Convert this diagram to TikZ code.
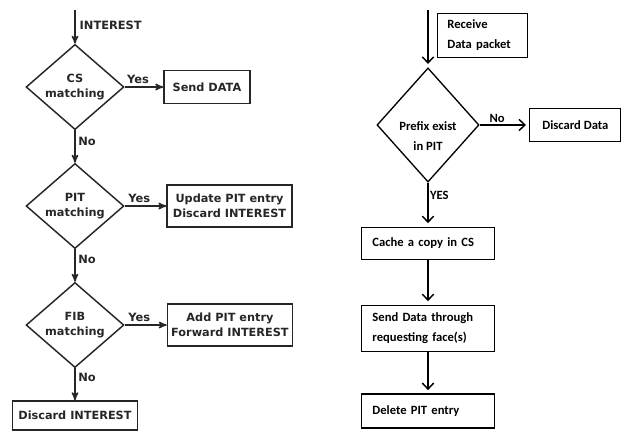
\documentclass[tikz,border=0pt]{standalone}
\usepackage{fontspec}
\setmainfont{DejaVu Sans}
\newfontfamily\calibfont{Carlito}
\usetikzlibrary{shapes,arrows,arrows.meta}
\definecolor{ink}{HTML}{262626}
\tikzstyle{decision} = [diamond, draw=ink, text=ink, line width=1.1pt, align=center, inner sep=0pt, minimum width=2.59cm, minimum height=2.2cm, font=\fontsize{8.5}{11.25}\selectfont\bfseries]
\tikzstyle{block} = [rectangle, draw=ink, text=ink, line width=1.1pt, align=center, inner sep=0pt, font=\fontsize{8.5}{11.25}\selectfont\bfseries]
\tikzstyle{tag} = [text=ink, inner sep=2pt, font=\fontsize{8.6}{10}\selectfont\bfseries]
\tikzstyle{line} = [draw=ink, -stealth', line width=1.1pt]
\tikzstyle{query} = [diamond, draw, line width=1pt, inner sep=0pt, minimum width=2.7cm, minimum height=3.02cm]
\tikzstyle{process} = [rectangle, draw, line width=0.8pt, align=left, minimum width=3.52cm, text width=2.94cm, inner xsep=0.29cm, inner ysep=0pt, font=\calibfont\fontsize{9.5}{15}\selectfont\bfseries]
\tikzstyle{note} = [inner sep=1pt, font=\calibfont\fontsize{9.5}{12}\selectfont\bfseries]
\tikzstyle{arrow} = [draw, -{Straight Barb[length=4.5pt, width=8.5pt]}, line width=1.1pt, shorten >=2.5pt]

\begin{document}
\begin{tikzpicture}
\useasboundingbox (0,0) rectangle (16.563,-11.403);

% interest packet
\node [decision] (cs) at (1.984,-2.302) {CS\\matching};
\node [decision, below of=cs, node distance=3.149cm] (pit) {PIT\\matching};
\node [decision, below of=pit, node distance=3.149cm] (fib) {FIB\\matching};
\node [block, below of=fib, node distance=2.394cm, minimum width=3.31cm, minimum height=0.77cm] (drop) {Discard INTEREST};

\node [block, right of=cs, node distance=3.492cm, minimum width=2.28cm, minimum height=0.87cm] (senddata) {Send DATA};
\node [block, right of=pit, node distance=4.09cm, minimum width=3.31cm, minimum height=1.11cm] (update) {Update PIT entry\\Discard INTEREST};
\node [block, right of=fib, node distance=4.1cm, minimum width=3.31cm, minimum height=1.11cm] (forward) {Add PIT entry\\Forward INTEREST};

\coordinate [above of=cs, node distance=2.04cm] (intop);

\path [line] (intop) -- node[tag, right, xshift=1pt, yshift=1pt] {INTEREST} (cs);
\path [line] (cs) -- node[tag, above, pos=0.35] {Yes} (senddata);
\path [line] (pit) -- node[tag, above, pos=0.35] {Yes} (update);
\path [line] (fib) -- node[tag, above, pos=0.35] {Yes} (forward);
\path [line] (cs) -- node[tag, right, pos=0.35] {No} (pit);
\path [line] (pit) -- node[tag, right, pos=0.3] {No} (fib);
\path [line] (fib) -- node[tag, right, pos=0.3] {No} (drop);

% data packet
\node [query, label={[note, align=center, yshift=-8pt, font=\calibfont\fontsize{9.5}{15}\selectfont\bfseries]center:Prefix exist\\in PIT}] (prefix) at (11.324,-3.307) {};
\node [process, below of=prefix, node distance=3.135cm, minimum height=0.87cm] (cache) {Cache a copy in CS};
\node [process, below of=cache, node distance=2.249cm, minimum height=1.24cm] (forwarddata) {Send Data through\\requesting face(s)};
\node [process, below of=forwarddata, node distance=2.183cm, minimum height=0.9cm] (delete) {Delete PIT entry};
\node [rectangle, draw, line width=0.8pt, right of=prefix, node distance=3.9cm, minimum width=2.41cm, minimum height=0.87cm, font=\calibfont\fontsize{9.5}{12}\selectfont\bfseries] (dropdata) {Discard Data};

\coordinate [above of=prefix, node distance=3.043cm] (datain);
\node [rectangle, draw, line width=0.6pt, anchor=north west, align=left, minimum width=2.38cm, minimum height=1.16cm, text width=1.85cm, inner xsep=0.265cm, inner ysep=0pt, font=\calibfont\fontsize{9.5}{15}\selectfont\bfseries] (receive) at ([xshift=0.238cm, yshift=-0.079cm]datain) {Receive\\Data packet};

\path [arrow] (datain) -- (prefix);
\path [arrow] (prefix) -- node[note, above, pos=0.35] {No} (dropdata);
\path [arrow] (prefix) -- node[note, right, pos=0.3] {YES} (cache);
\path [arrow] (cache) -- (forwarddata);
\path [arrow] (forwarddata) -- (delete);

\end{tikzpicture}
\end{document}
